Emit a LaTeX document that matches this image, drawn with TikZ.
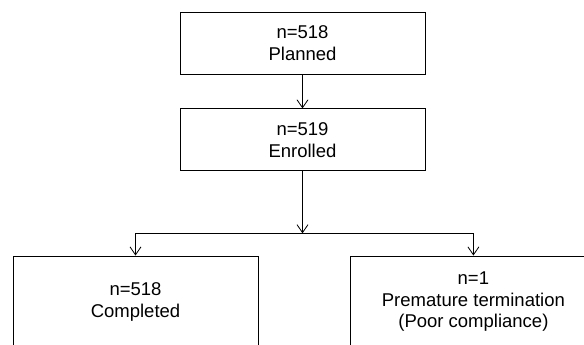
\documentclass[tikz,border=0pt]{standalone}
\usepackage{fontspec}
\setmainfont{Liberation Sans}
\usepackage{tikz}
\usetikzlibrary{arrows.meta,calc,positioning}

\begin{document}
\begin{tikzpicture}[x=1pt,y=1pt,node distance=34pt, every node/.style={font=\fontsize{18.5}{21.5}\selectfont,align=center}]
\useasboundingbox (0,0) rectangle (584,-345);
\node[draw,line width=.9pt,minimum width=245pt,minimum height=62pt] (plan) at (302.5,-43) {n=518\\Planned};
\node[draw,line width=.9pt,minimum width=245pt,minimum height=62pt,below=of plan] (enr) {n=519\\Enrolled};
\node[draw,line width=.9pt,minimum width=245pt,minimum height=92pt] (comp) at (135.5,-302) {n=518\\Completed};
\node[draw,line width=.9pt,minimum width=245pt,minimum height=92pt,right=92pt of comp] (prem) {n=1\\Premature termination\\(Poor compliance)};
\coordinate (split) at ($(enr.south)+(0,-62)$);
\draw[line width=.8pt,-{Straight Barb[length=8pt,width=11pt]}] (plan)--(enr);
\draw[line width=.8pt,-{Straight Barb[length=8pt,width=11pt]}] (enr)--(split);
\draw[line width=.8pt,-{Straight Barb[length=8pt,width=11pt]}] (split)-|(comp);
\draw[line width=.8pt,-{Straight Barb[length=8pt,width=11pt]}] (split)-|(prem);
\end{tikzpicture}
\end{document}
